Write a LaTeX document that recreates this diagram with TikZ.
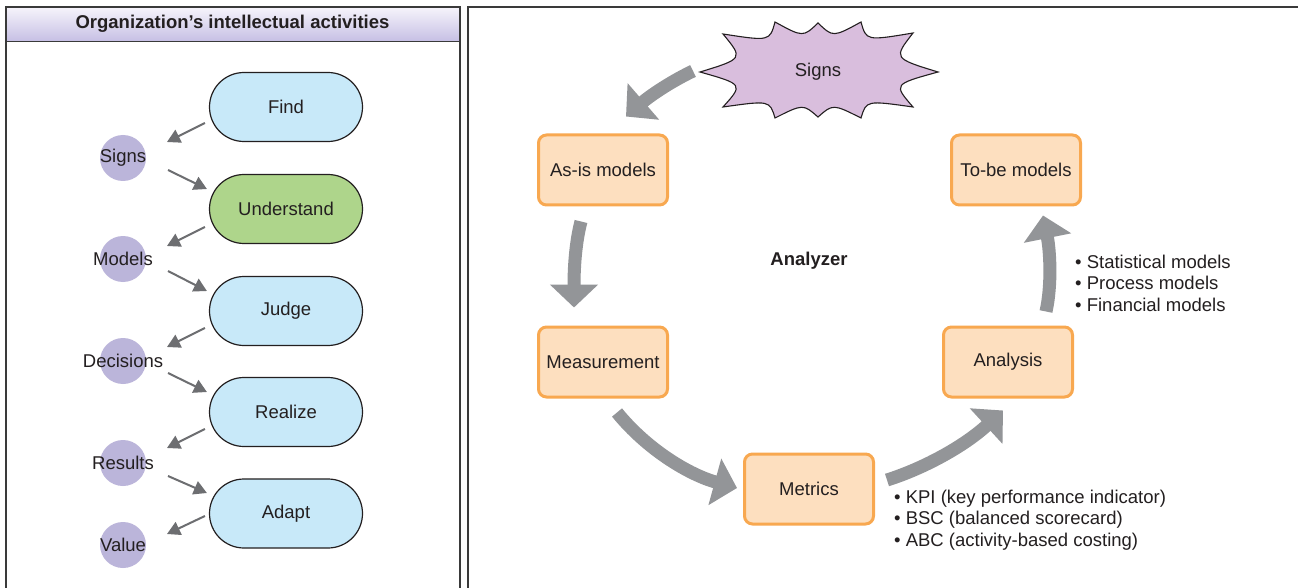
\documentclass[tikz,border=0pt]{standalone}
\usepackage{fontspec}
\setmainfont{Liberation Sans}
\usetikzlibrary{shapes.misc,arrows.meta}
\definecolor{ink}{HTML}{231F20}
\definecolor{frame}{HTML}{3A3A3A}
\definecolor{headtop}{HTML}{F6F4FB}
\definecolor{headbot}{HTML}{C6BFE4}
\definecolor{actblue}{HTML}{C8E9F9}
\definecolor{actgreen}{HTML}{AED58B}
\definecolor{outlav}{HTML}{BBB5DA}
\definecolor{stagefill}{HTML}{FDDFBF}
\definecolor{stageline}{HTML}{F8A850}
\definecolor{flowgray}{HTML}{939598}
\definecolor{linkgray}{HTML}{6D6E71}
\definecolor{burst}{HTML}{D9BEDD}
\begin{document}
\begin{tikzpicture}[x=1pt,y=-1pt,
  font=\fontsize{18.5}{22}\selectfont, text=ink,
  activity/.style={rounded rectangle, draw=ink, line width=1.2pt, fill=actblue,
    minimum width=153pt, minimum height=69pt, inner sep=0pt},
  outcome/.style={circle, fill=outlav, minimum size=46pt, inner sep=0pt},
  stage/.style={rectangle, rounded corners=8pt, draw=stageline, line width=3pt,
    fill=stagefill, minimum width=129pt, minimum height=70pt, inner sep=0pt},
  link/.style={draw=linkgray, line width=2pt, -{Triangle[length=13pt,width=14pt]}},
  flow/.style={draw=flowgray, line width=13pt, -{Triangle[length=23pt,width=47pt]}},
  bullets/.style={align=left, inner sep=0pt, anchor=west,
    font=\fontsize{18.5}{21.5}\selectfont}]
\clip (0,0) rectangle (1298,588);
\fill[white] (0,0) rectangle (1298,588);

% ---------- left panel ----------
\shade[top color=headtop, bottom color=headbot] (6,7) rectangle (459.5,41.5);
\draw[frame, line width=2pt] (6,600) -- (6,7) -- (459.5,7) -- (459.5,600);
\draw[frame, line width=1.5pt] (6,41.5) -- (459.5,41.5);
\node[font=\bfseries\fontsize{18.5}{22}\selectfont] (title) at (232.5,24) {Organization’s intellectual activities};

\node[activity] (find) at (286,107) {Find};
\node[activity, fill=actgreen] (understand) at (286,209) {Understand};
\node[activity] (judge) at (286,311) {Judge};
\node[activity] (realize) at (286,412) {Realize};
\node[activity] (adapt) at (286,513.5) {Adapt};

% zero-width labels keep every circle the same size
\node[outcome] (signs) at (123,158) {\makebox[0pt]{Signs}};
\node[outcome] (models) at (123,259) {\makebox[0pt]{Models}};
\node[outcome] (decisions) at (123,361) {\makebox[0pt]{Decisions}};
\node[outcome] (results) at (123,463) {\makebox[0pt]{Results}};
\node[outcome] (value) at (123,545) {\makebox[0pt]{Value}};

\draw[link] ([shift={(-4,16)}]find.west) -- ([shift={(44,-16)}]signs.center);
\draw[link] ([shift={(45,12)}]signs.center) -- ([shift={(-2,-20)}]understand.west);
\draw[link] ([shift={(-4,18)}]understand.west) -- ([shift={(44,-13)}]models.center);
\draw[link] ([shift={(45,12)}]models.center) -- ([shift={(-2,-20)}]judge.west);
\draw[link] ([shift={(-4,17)}]judge.west) -- ([shift={(44,-14)}]decisions.center);
\draw[link] ([shift={(45,12)}]decisions.center) -- ([shift={(-2,-20)}]realize.west);
\draw[link] ([shift={(-4,17)}]realize.west) -- ([shift={(44,-15)}]results.center);
\draw[link] ([shift={(45,13)}]results.center) -- ([shift={(-2,-20.5)}]adapt.west);
\draw[link] ([shift={(-4,2.5)}]adapt.west) -- ([shift={(44,-11)}]value.center);

% ---------- right panel ----------
\draw[frame, line width=2pt] (467.5,600) -- (467.5,7) -- (1310,7);

% starburst outline around the Signs label
\begin{scope}[shift={(818,72)}]
\draw[fill=burst, draw=ink, line width=1.1pt, line join=miter]
  (-118,0) .. controls (-74.6,-13.3) .. (-95,-38)
  .. controls (-48.3,-30.8) .. (-43,-50)
  .. controls (-15,-34.7) .. (0,-49)
  .. controls (15,-34.7) .. (43,-50)
  .. controls (48.3,-31.2) .. (95,-39)
  .. controls (75.3,-13.7) .. (120,0)
  .. controls (75.3,12.3) .. (95,35)
  .. controls (48.3,28.4) .. (43,46)
  .. controls (15,31.9) .. (0,45)
  .. controls (-15,31.9) .. (-43,46)
  .. controls (-48.3,28.4) .. (-95,35)
  .. controls (-74.6,12.3) .. (-118,0) -- cycle;
\end{scope}
\node (sgn) at (818,72) {Signs};

\node[stage] (asis) at (603,170) {As-is models};
\node[stage] (tobe) at (1016,170) {To-be models};
\node[stage] (meas) at (603,362) {Measurement};
\node[stage] (metrics) at (809,489) {Metrics};
\node[stage] (analysis) at (1008,362) {Analysis};

\node[font=\bfseries\fontsize{18.5}{22}\selectfont] (analyzer) at (809,261) {Analyzer};

\draw[flow] ([shift={(-125,-1)}]sgn.center) .. controls +(-25,12) and +(22,-19) .. ([shift={(23,-17)}]asis.north);
\draw[flow] ([shift={(-22,15)}]asis.south) .. controls +(-5,19) and +(0,-43) .. ([shift={(-29,-18)}]meas.north);
\draw[flow] ([shift={(14,14)}]meas.south) .. controls +(31,38) and +(-47,-13) .. ([shift={(-6,-1)}]metrics.west);
\draw[flow] ([shift={(12,-9)}]metrics.east) .. controls +(38,-12) and +(-38,35) .. ([shift={(-5,12)}]analysis.south);
\draw[flow] ([shift={(38,-14)}]analysis.north) .. controls +(6,-27) and +(7,35) .. ([shift={(27,9)}]tobe.south);

\node[bullets] (modlist) at (1075,283) {• Statistical models\\• Process models\\• Financial models};
\node[bullets] (metlist) at (894,520) {• KPI (key performance indicator)\\• BSC (balanced scorecard)\\• ABC (activity-based costing)};
\end{tikzpicture}
\end{document}
